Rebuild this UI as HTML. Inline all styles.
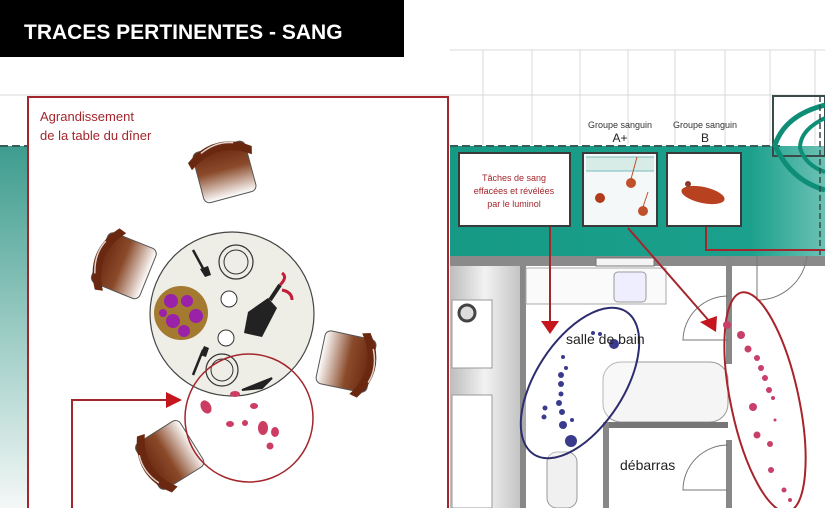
<!DOCTYPE html>
<html><head><meta charset="utf-8"><style>
html,body{margin:0;padding:0;background:#fff}
svg{display:block}
text{font-family:"Liberation Sans",sans-serif}
</style></head><body>
<svg width="825" height="508" viewBox="0 0 825 508" xmlns="http://www.w3.org/2000/svg">
<defs>
<linearGradient id="strip" x1="0" y1="0" x2="0" y2="1">
<stop offset="0" stop-color="#3d9c8e"/><stop offset="1" stop-color="#f4f8f7"/></linearGradient>
<linearGradient id="teal" x1="0" y1="0" x2="1" y2="0">
<stop offset="0" stop-color="#169a86"/><stop offset="0.8" stop-color="#1aa08c"/><stop offset="1" stop-color="#6cc1b4"/></linearGradient>
<linearGradient id="chair" x1="0" y1="0" x2="0" y2="1">
<stop offset="0" stop-color="#6a2810"/><stop offset="0.45" stop-color="#8a4a2a"/><stop offset="1" stop-color="#ffffff"/></linearGradient>
<linearGradient id="wall" x1="0" y1="0" x2="1" y2="0">
<stop offset="0" stop-color="#bdbdbd"/><stop offset="0.5" stop-color="#f2f2f2"/><stop offset="1" stop-color="#c4c4c4"/></linearGradient>
<g id="ch">
<rect x="-27" y="-24" width="54" height="52" rx="6" fill="url(#chair)" stroke="#555" stroke-width="1"/>
<path d="M-33,-16 Q0,-40 33,-16 L31,-8 Q0,-30 -31,-8 Z" fill="#6a2810"/>
<path d="M-18,-22 Q0,-30 16,-24" stroke="#fff" stroke-width="1.5" fill="none" opacity="0.8"/>
</g>
</defs>

<!-- grid -->
<g stroke="#d8d8d8" stroke-width="1">
<line x1="450" y1="50" x2="825" y2="50"/><line x1="0" y1="95" x2="825" y2="95"/>
<line x1="483" y1="50" x2="483" y2="145"/><line x1="532" y1="50" x2="532" y2="145"/>
<line x1="580" y1="50" x2="580" y2="145"/><line x1="628" y1="50" x2="628" y2="145"/>
<line x1="675" y1="50" x2="675" y2="145"/><line x1="725" y1="50" x2="725" y2="145"/>
<line x1="770" y1="50" x2="770" y2="145"/><line x1="815" y1="50" x2="815" y2="145"/>
</g>

<!-- title -->
<rect x="0" y="0" width="404" height="57" fill="#000"/>
<text x="24" y="39" font-size="21" font-weight="bold" fill="#fff">TRACES PERTINENTES - SANG</text>

<!-- left strip -->
<rect x="0" y="146" width="28" height="362" fill="url(#strip)"/>
<line x1="0" y1="146" x2="28" y2="146" stroke="#3a5a5a" stroke-width="2" stroke-dasharray="8,4"/>

<!-- teal band -->
<rect x="450" y="146" width="375" height="110" fill="url(#teal)"/>
<line x1="450" y1="146" x2="780" y2="146" stroke="#3a5a5a" stroke-width="2" stroke-dasharray="8,4"/>
<rect x="773" y="96" width="52" height="60" fill="none" stroke="#3a4a4a" stroke-width="2"/>
<path d="M825,105 Q785,115 775,145 Q790,180 825,190" fill="none" stroke="#0e8e77" stroke-width="5"/>
<path d="M825,118 Q800,130 800,148 Q805,165 825,172" fill="none" stroke="#0e8e77" stroke-width="4"/>
<line x1="820" y1="96" x2="820" y2="256" stroke="#3a4a4a" stroke-width="1.5" stroke-dasharray="6,3"/>

<!-- floor plan -->
<rect x="450" y="256" width="375" height="252" fill="#fff"/>
<rect x="450" y="256" width="375" height="10" fill="#8a8a8a"/>
<rect x="596" y="258" width="58" height="8" fill="#f4f4f4" stroke="#777"/>
<rect x="450" y="266" width="70" height="242" fill="url(#wall)"/>
<rect x="452" y="300" width="40" height="68" fill="#fff" stroke="#999"/>
<rect x="452" y="395" width="40" height="113" fill="#fff" stroke="#999"/>
<circle cx="467" cy="313" r="8" fill="#ddd" stroke="#444" stroke-width="3"/>
<rect x="520" y="266" width="6" height="242" fill="#888"/>
<rect x="526" y="268" width="140" height="36" fill="#fafafa" stroke="#aaa"/>
<rect x="614" y="272" width="32" height="30" rx="4" fill="#eef" stroke="#999"/>
<rect x="603" y="362" width="125" height="60" rx="18" fill="#f5f5f5" stroke="#999"/>
<rect x="603" y="422" width="125" height="6" fill="#777"/>
<rect x="603" y="422" width="6" height="86" fill="#888"/>
<rect x="726" y="256" width="6" height="108" fill="#888"/>
<rect x="726" y="440" width="6" height="68" fill="#888"/>
<rect x="547" y="452" width="30" height="56" rx="10" fill="#f0f0f0" stroke="#999"/>
<path d="M728,296 A45,45 0 0 0 683,340 L728,340" fill="none" stroke="#777"/>
<path d="M728,445 A45,45 0 0 0 683,490 L728,490" fill="none" stroke="#777"/>
<path d="M757,256 L757,300 A50,50 0 0 0 807,256" fill="none" stroke="#777"/>
<text x="620" y="470" font-size="14" fill="#222">débarras</text>

<!-- blue ellipse and dots -->
<ellipse cx="580" cy="383" rx="44" ry="85" transform="rotate(33 580 383)" fill="rgba(255,255,255,0.3)" stroke="#2c2c6e" stroke-width="2"/>
<g fill="#3b3b8e">
<circle cx="614" cy="344" r="5"/><circle cx="593" cy="333" r="2"/><circle cx="600" cy="334" r="2"/>
<circle cx="563" cy="357" r="2"/><circle cx="566" cy="368" r="2"/><circle cx="561" cy="375" r="3"/>
<circle cx="561" cy="384" r="3"/><circle cx="561" cy="394" r="2.5"/><circle cx="559" cy="403" r="3"/>
<circle cx="562" cy="412" r="3"/><circle cx="545" cy="408" r="2.5"/><circle cx="544" cy="417" r="2.5"/>
<circle cx="563" cy="425" r="4"/><circle cx="572" cy="420" r="2"/><circle cx="571" cy="441" r="6"/>
</g>
<text x="566" y="344" font-size="14" fill="#222">salle de bain</text>

<!-- red ellipse and dots -->
<ellipse cx="765" cy="402" rx="34" ry="112" transform="rotate(-12 765 402)" fill="none" stroke="#a8232a" stroke-width="2"/>
<g fill="#c8406a">
<circle cx="727" cy="325" r="4"/><circle cx="741" cy="335" r="4"/><circle cx="748" cy="349" r="3.5"/>
<circle cx="757" cy="358" r="3"/><circle cx="761" cy="368" r="3"/><circle cx="765" cy="378" r="3"/>
<circle cx="769" cy="390" r="3"/><circle cx="773" cy="398" r="2"/><circle cx="753" cy="407" r="4"/>
<circle cx="757" cy="435" r="3.5"/><circle cx="770" cy="444" r="3"/><circle cx="771" cy="470" r="3"/>
<circle cx="784" cy="490" r="2.5"/><circle cx="775" cy="420" r="1.5"/><circle cx="790" cy="500" r="2"/>
</g>

<!-- info boxes -->
<rect x="459" y="153" width="111" height="73" fill="#fff" stroke="#3a3a3a" stroke-width="2"/>
<text font-size="9" fill="#a3262c" text-anchor="middle"><tspan x="514" y="181">Tâches de sang</tspan><tspan x="514" y="194">effacées et révélées</tspan><tspan x="514" y="207">par le luminol</tspan></text>
<rect x="583" y="153" width="74" height="73" fill="#f4f8f8" stroke="#3a3a3a" stroke-width="2"/>
<rect x="586" y="157" width="68" height="14" fill="#d7ece6"/>
<line x1="586" y1="157" x2="654" y2="157" stroke="#7bb" /><line x1="586" y1="171" x2="654" y2="171" stroke="#7bb"/>
<circle cx="600" cy="198" r="5" fill="#b13b1b"/>
<circle cx="631" cy="183" r="5" fill="#c0502a"/><line x1="631" y1="179" x2="637" y2="157" stroke="#c0502a"/>
<circle cx="643" cy="211" r="5" fill="#c0502a"/><line x1="643" y1="207" x2="648" y2="192" stroke="#c0502a"/>
<rect x="667" y="153" width="74" height="73" fill="#fff" stroke="#3a3a3a" stroke-width="2"/>
<ellipse cx="703" cy="195" rx="22" ry="8" transform="rotate(12 703 195)" fill="#b8421f"/>
<circle cx="688" cy="184" r="3" fill="#8a3a2a"/>
<text font-size="9" fill="#333" text-anchor="middle"><tspan x="620" y="128">Groupe sanguin</tspan><tspan x="705" y="128">Groupe sanguin</tspan></text>
<text font-size="12" fill="#222" text-anchor="middle"><tspan x="620" y="142">A+</tspan><tspan x="705" y="142">B</tspan></text>

<!-- connectors right -->
<g stroke="#a3262c" stroke-width="2" fill="none">
<line x1="550" y1="227" x2="550" y2="325"/>
<line x1="628" y1="228" x2="710" y2="322"/>
<polyline points="706,227 706,250 825,250"/>
</g>
<path d="M541,321 L559,321 L550,334 Z" fill="#c4161c"/>
<path d="M700,322 L717,316 L716,332 Z" fill="#c4161c"/>

<!-- inset box -->
<rect x="28" y="97" width="420" height="415" fill="#fff" stroke="#a3262c" stroke-width="2"/>
<text font-size="13" fill="#a3262c"><tspan x="40" y="121">Agrandissement</tspan><tspan x="40" y="140">de la table du dîner</tspan></text>

<!-- chairs -->
<use href="#ch" transform="translate(224,170) rotate(-15)"/>
<use href="#ch" transform="translate(122,265) rotate(-68)"/>
<use href="#ch" transform="translate(348,362) rotate(102)"/>
<use href="#ch" transform="translate(168,456) rotate(-122)"/>

<!-- table -->
<circle cx="232" cy="314" r="82" fill="#eeede6" stroke="#444" stroke-width="1.2"/>
<circle cx="236" cy="262" r="17" fill="none" stroke="#333" stroke-width="1.2"/><circle cx="236" cy="262" r="12" fill="none" stroke="#333"/>
<circle cx="229" cy="299" r="8" fill="#fff" stroke="#333"/>
<circle cx="226" cy="338" r="8" fill="#fff" stroke="#333"/>
<circle cx="222" cy="370" r="16" fill="none" stroke="#333" stroke-width="1.2"/><circle cx="222" cy="370" r="11" fill="none" stroke="#333"/>
<circle cx="181" cy="313" r="27" fill="#a37a30"/>
<g fill="#9a22a8"><circle cx="171" cy="301" r="7"/><circle cx="187" cy="301" r="6"/><circle cx="196" cy="316" r="7"/><circle cx="173" cy="321" r="7"/><circle cx="184" cy="331" r="6"/><circle cx="163" cy="313" r="4"/></g>
<path d="M248,312 L268,298 L277,308 L262,337 L244,333 Z" fill="#222"/>
<path d="M270,300 L280,285" stroke="#222" stroke-width="4"/>
<path d="M280,285 q8,-8 2,-12 M282,290 q10,2 10,10" stroke="#c21e3a" stroke-width="3" fill="none"/>
<path d="M193,250 L205,272" stroke="#222" stroke-width="2.5"/><path d="M200,269 l5,8 6,-2 -3,-9z" fill="#222"/>
<path d="M193,375 L203,350" stroke="#222" stroke-width="2.5"/><path d="M200,355 l4,-9 5,2 -3,9z" fill="#222"/>
<path d="M242,390 L272,378 L262,388 Z" fill="#222" stroke="#222" stroke-width="2"/>

<!-- blood circle -->
<circle cx="249" cy="418" r="64" fill="none" stroke="#a3262c" stroke-width="1.5"/>
<g fill="#cc3d63">
<ellipse cx="206" cy="407" rx="5" ry="7" transform="rotate(-30 206 407)"/><ellipse cx="235" cy="394" rx="5" ry="3"/>
<ellipse cx="254" cy="406" rx="4" ry="3"/><ellipse cx="230" cy="424" rx="4" ry="3"/><ellipse cx="245" cy="423" rx="3" ry="3"/>
<ellipse cx="263" cy="428" rx="5" ry="7"/><ellipse cx="275" cy="432" rx="4" ry="5"/><ellipse cx="270" cy="446" rx="3.5" ry="3.5"/>
</g>
<polyline points="72,508 72,400 166,400" fill="none" stroke="#a3262c" stroke-width="2"/>
<path d="M166,392 L182,400 L166,408 Z" fill="#c4161c"/>
</svg>
</body></html>
